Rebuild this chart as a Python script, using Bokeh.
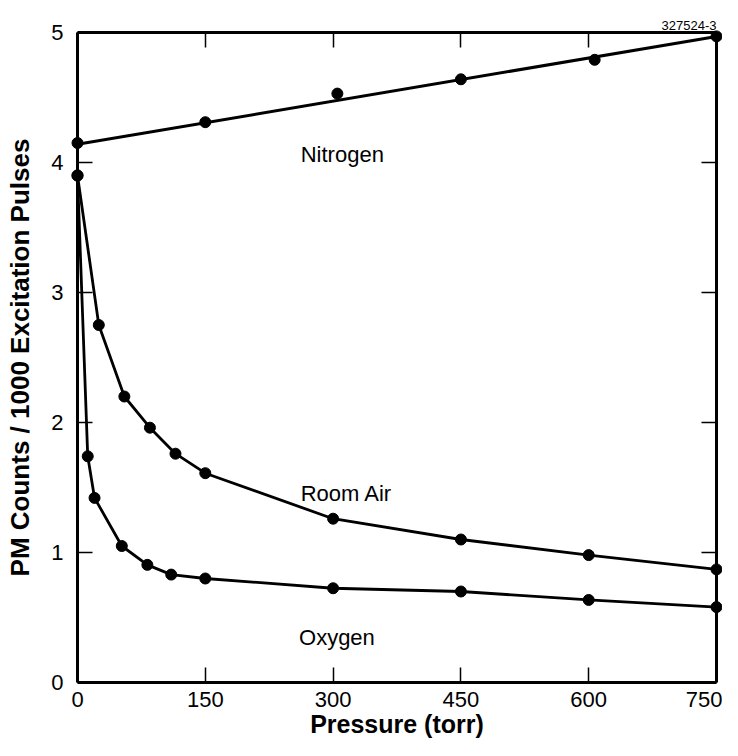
from bokeh.plotting import figure
from bokeh.models import Range1d, LinearAxis, FixedTicker
from bokeh.embed import file_html
from bokeh.resources import INLINE
from bokeh.core.properties import value

# ---- data ----
nitrogen_x = [0, 150, 305, 450, 607, 750]
nitrogen_y = [4.15, 4.31, 4.53, 4.64, 4.79, 4.97]
nitrogen_fit_x = [0, 750]
nitrogen_fit_y = [4.14, 4.97]

air_x = [0, 25, 55, 85, 115, 150, 300, 450, 600, 750]
air_y = [3.90, 2.75, 2.20, 1.96, 1.76, 1.61, 1.26, 1.10, 0.98, 0.87]

oxygen_x = [0, 12, 20, 52, 82, 110, 150, 300, 450, 600, 750]
oxygen_y = [3.90, 1.74, 1.42, 1.05, 0.905, 0.83, 0.80, 0.725, 0.70, 0.635, 0.58]

x_ticks = [0, 150, 300, 450, 600, 750]
y_ticks = [0, 1, 2, 3, 4, 5]

series_labels = ["Nitrogen", "Room Air", "Oxygen"]
label_x = [262, 262, 260]
label_y = [4.06, 1.454, 0.346]

figure_id = "327524-3"

FONT = "Liberation Sans"

p = figure(width=722, height=740, output_backend="svg", toolbar_location=None,
           x_range=Range1d(0, 750), y_range=Range1d(0, 5),
           x_axis_location=None, y_axis_location=None,
           min_border_left=77, min_border_right=6, min_border_top=32, min_border_bottom=58)
p.outline_line_color = None
p.grid.visible = False
p.background_fill_color = "white"

p.title.text = figure_id
p.title.align = "right"
p.title.text_font = FONT
p.title.text_font_size = "13px"
p.title.text_font_style = "normal"
p.title.text_color = "black"
p.title.standoff = 6


def style_axis(ax, ticks, labels=True):
    ax.ticker = FixedTicker(ticks=ticks)
    ax.axis_line_width = 3
    ax.axis_line_color = "black"
    ax.major_tick_in = 15
    ax.major_tick_out = 0
    ax.major_tick_line_width = 1.5
    ax.major_tick_line_color = "black"
    ax.minor_tick_line_color = None
    ax.major_label_text_font = FONT
    if labels:
        ax.major_label_text_font_size = "22px"
        ax.major_label_text_color = "black"
    else:
        ax.major_label_text_font_size = "1px"
        ax.major_label_text_color = None
        ax.major_label_standoff = 0


xb = LinearAxis(axis_label="Pressure (torr)")
style_axis(xb, x_ticks)
xb.major_label_standoff = 9
xb.axis_label_standoff = 0
xb.axis_label_text_font = FONT
xb.axis_label_text_font_style = "bold"
xb.axis_label_text_font_size = "25px"
xb.axis_label_text_color = "black"
p.add_layout(xb, "below")

xt = LinearAxis()
style_axis(xt, x_ticks, labels=False)
p.add_layout(xt, "above")

yl = LinearAxis(axis_label="PM Counts / 1000 Excitation Pulses")
style_axis(yl, y_ticks)
yl.major_label_standoff = 14
yl.axis_label_standoff = 13
yl.axis_label_text_font = FONT
yl.axis_label_text_font_style = "bold"
yl.axis_label_text_font_size = "26px"
yl.axis_label_text_color = "black"
p.add_layout(yl, "left")

yr = LinearAxis()
style_axis(yr, y_ticks, labels=False)
p.add_layout(yr, "right")

# lines
p.line(nitrogen_fit_x, nitrogen_fit_y, line_color="black", line_width=3)
p.line(air_x, air_y, line_color="black", line_width=2.8)
p.line(oxygen_x, oxygen_y, line_color="black", line_width=2.8)

# markers (overlay level so dots on the frame edges are not cut)
for xs, ys in [(nitrogen_x, nitrogen_y), (air_x, air_y), (oxygen_x, oxygen_y)]:
    p.scatter(xs, ys, size=11, marker="circle", fill_color="black", line_color="black",
              level="overlay")

p.text(x=label_x, y=label_y, text=series_labels, text_font=value(FONT),
       text_font_size="22px", text_color="black", text_baseline="alphabetic", text_align="left")

open("out.html", "w").write(file_html(p, INLINE))
